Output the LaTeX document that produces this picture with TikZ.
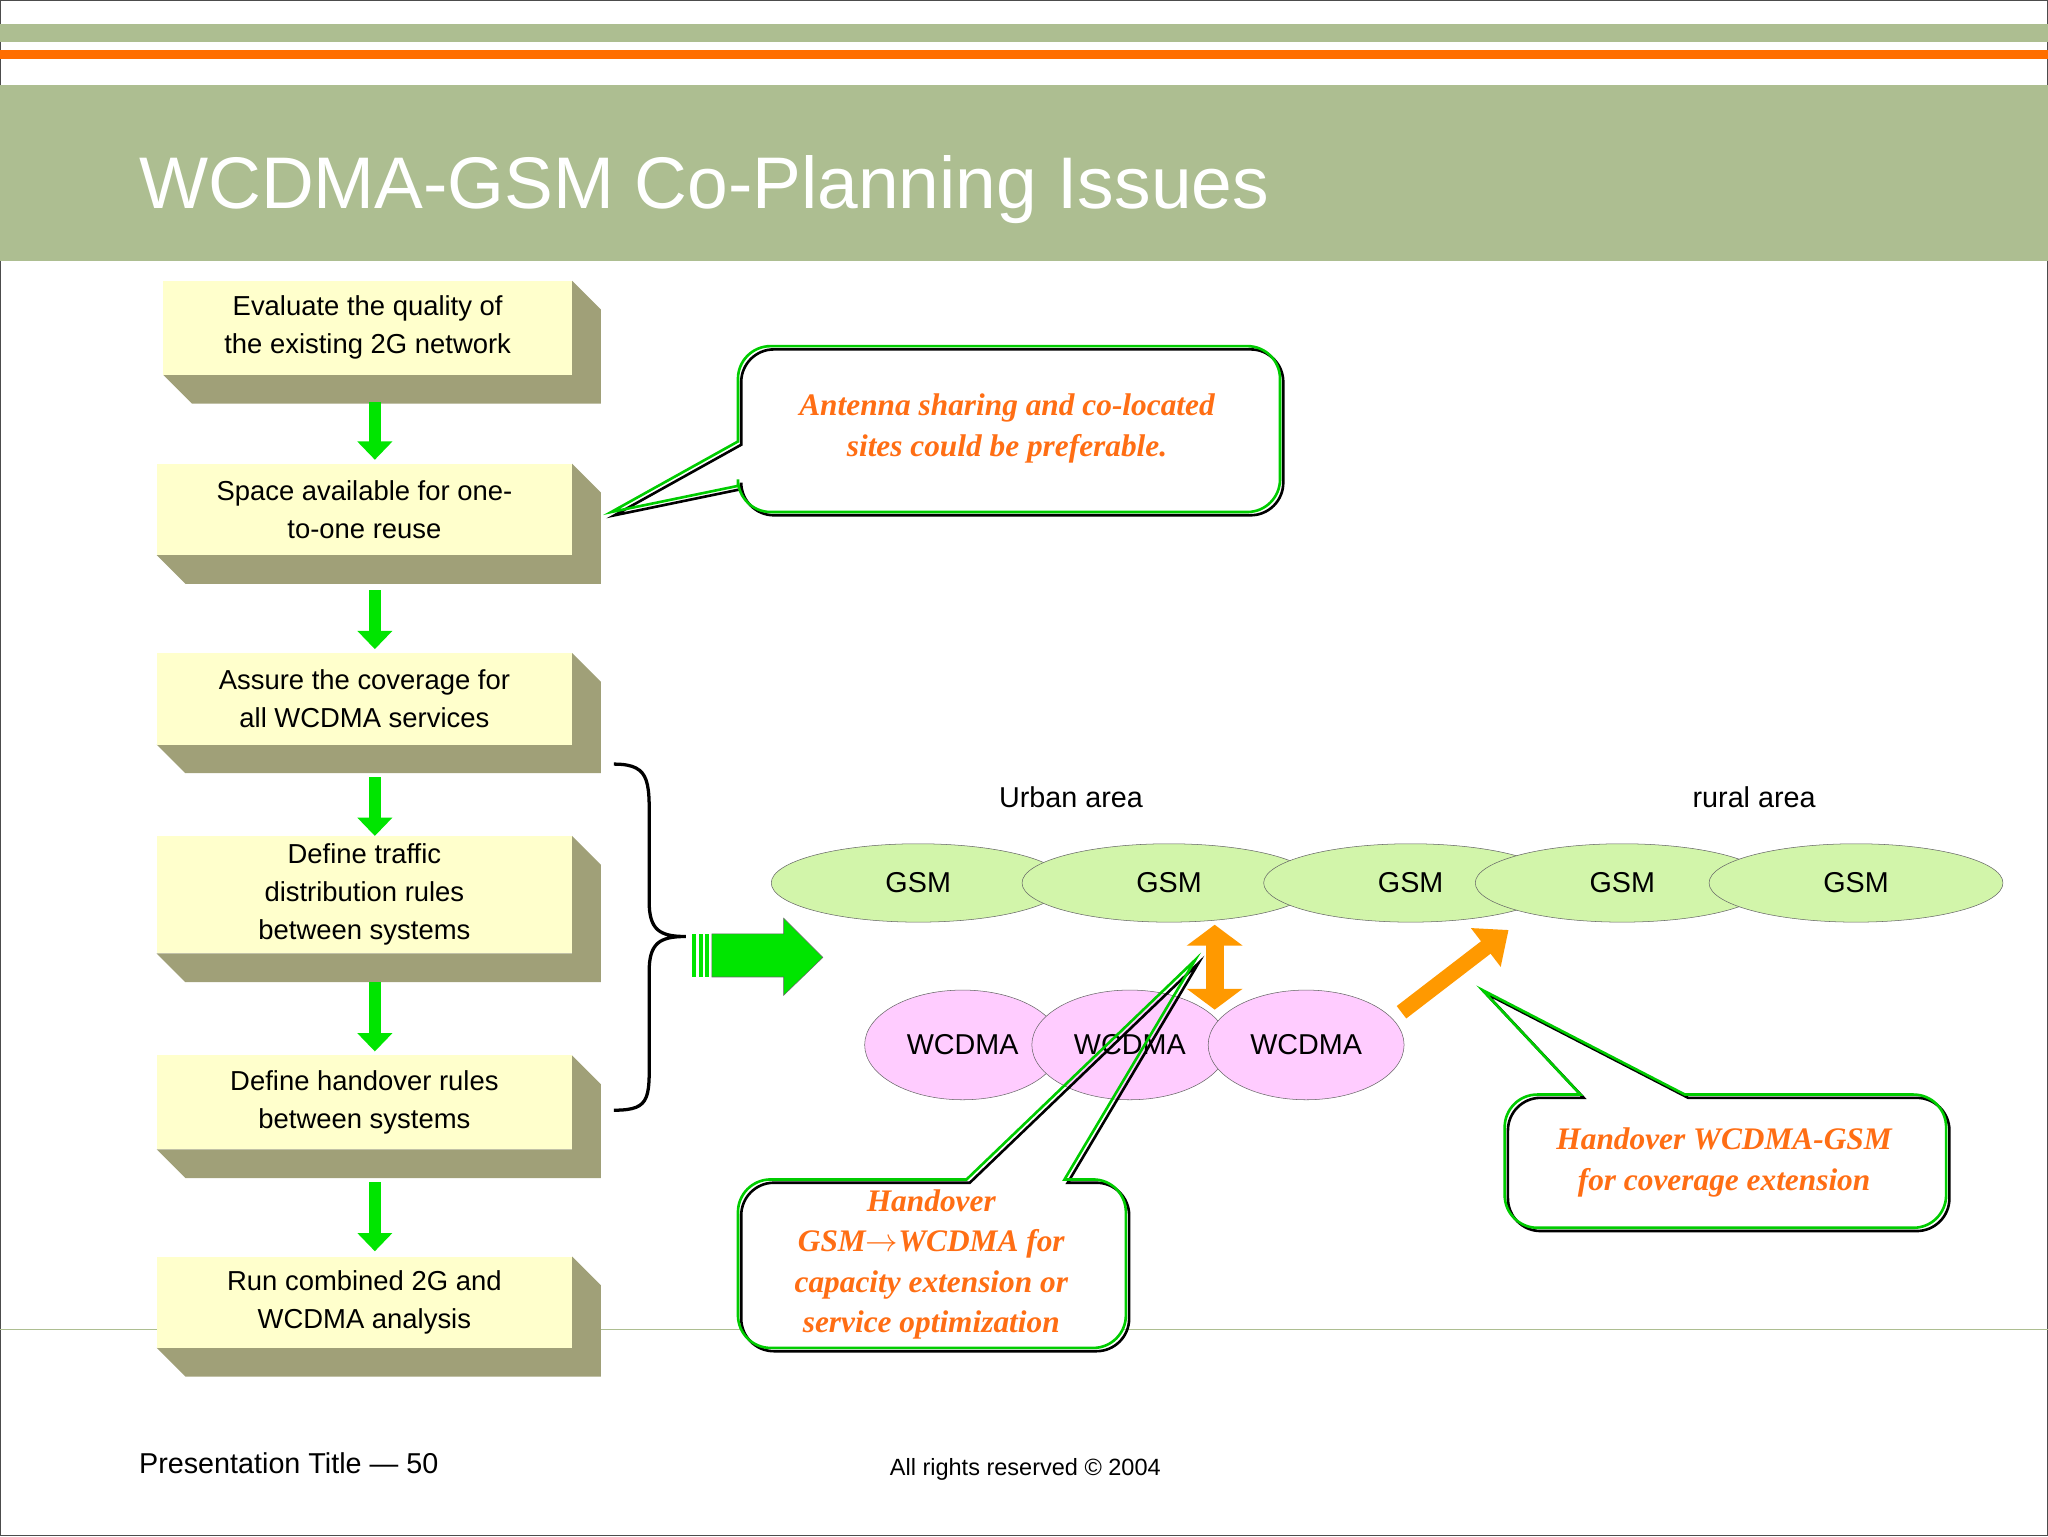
\documentclass[tikz,border=0pt]{standalone}
\usepackage{fontspec}
\setmainfont{Liberation Serif}
\newfontfamily\sans{Liberation Sans}
\usetikzlibrary{arrows.meta,shapes.geometric}
\definecolor{band}{RGB}{173,190,145}
\definecolor{orng}{RGB}{255,110,0}
\definecolor{boxf}{RGB}{255,255,204}
\definecolor{boxs}{RGB}{160,160,120}
\definecolor{gsmf}{RGB}{210,245,170}
\definecolor{wcf}{RGB}{255,204,255}
\definecolor{ctxt}{RGB}{255,110,20}
\definecolor{arr}{RGB}{255,153,0}
\begin{document}
\begin{tikzpicture}[x=1pt,y=-1pt,
 flow/.style={font=\sans\fontsize{21}{29}\selectfont,align=center},
 ctext/.style={font=\bfseries\itshape\fontsize{24}{31}\selectfont,text=ctxt,align=center},
 gsm/.style={ellipse,draw=black!60,fill=gsmf,minimum width=225,minimum height=60,font=\sans\fontsize{22}{24}\selectfont,inner sep=0},
 wc/.style={ellipse,draw=black!60,fill=wcf,minimum width=150,minimum height=84,font=\sans\fontsize{22}{24}\selectfont,inner sep=0},
 darr/.style={-{Triangle[length=14,width=26]},line width=9,green!90!black},
 call/.style={draw=green!80!black,line width=2},
 shad/.style={draw=black,line width=2,shift={(2.5,2.5)}}]
\useasboundingbox (0,0) rectangle (1568,1176);
\fill[white] (0,0) rectangle (1568,1176);
\draw[black!70] (0.5,0.5) rectangle (1567.5,1175.5);
\fill[band] (0,18) rectangle (1568,32);
\fill[orng] (0,38) rectangle (1568,45);
\fill[band] (0,65) rectangle (1568,200);
\node[anchor=base west,text=white,font=\sans\fontsize{56}{60}\selectfont] (title) at (103,160) {WCDMA-GSM Co-Planning Issues};
\draw[band,line width=1.2] (0,1018) -- (1568,1018);
% flow boxes
\foreach \n/\xa/\ya/\yb/\t in {b1/125/215/287/{Evaluate the quality of\\the existing 2G network},
 b2/120/355/425/{Space available for one-\\to-one reuse},
 b3/120/500/570/{Assure the coverage for\\all WCDMA services},
 b4/120/640/730/{Define traffic\\distribution rules\\between systems},
 b5/120/808/880/{Define handover rules\\between systems},
 b6/120/962/1032/{Run combined 2G and\\WCDMA analysis}}{
 \fill[boxs] (\xa,\yb) -- (438,\yb) -- (438,\ya) -- (460,\ya+22) -- (460,\yb+22) -- (\xa+22,\yb+22) -- cycle;
 \fill[boxf] (\xa,\ya) rectangle (438,\yb);
 \node[flow] (\n) at ({(\xa+438)/2},{(\ya+\yb)/2}) {\t};
}
\foreach \ya/\yb in {308/352,452/497,595/640,752/805,905/958}
 \draw[darr] (287,\ya) -- (287,\yb);
% brace
\draw[line width=2.5] (470,585) .. controls (500,585) and (497,600) .. (497,640) -- (497,690) .. controls (497,712) and (505,717) .. (525,717) .. controls (505,717) and (497,722) .. (497,744) -- (497,800) .. controls (497,840) and (500,850) .. (470,850);
% big arrow
\fill[green!90!black,draw=black!60] (545,715) -- (600,715) -- (600,703) -- (630,733) -- (600,762) -- (600,748) -- (545,748) -- cycle;
\foreach \x in {530,535,540} \fill[green!90!black] (\x,715) rectangle (\x+3,748);
% callout 1
\fill[white,rounded corners=25] (565,265) rectangle (980,392);
\draw[shad] (565,300) [rounded corners=25]-- (565,265) -- (980,265) -- (980,392) -- (565,392) [sharp corners]-- (565,372) -- (468,392) -- (565,338) -- cycle;
\draw[call] (565,300) [rounded corners=25]-- (565,265) -- (980,265) -- (980,392) -- (565,392) [sharp corners]-- (565,372) -- (468,392) -- (565,338) -- cycle;
\node[ctext] (c1) at (771,328) {Antenna sharing and co-located\\sites could be preferable.};
% labels
\node[font=\sans\fontsize{22}{24}\selectfont] (ua) at (820,610) {Urban area};
\node[font=\sans\fontsize{22}{24}\selectfont] (ra) at (1343,610) {rural area};
% ellipses
\node[gsm] (g1) at (703,676) {GSM};
\node[gsm] (g2) at (895,676) {GSM};
\node[gsm] (g3) at (1080,676) {GSM};
\node[gsm] (g4) at (1242,676) {GSM};
\node[gsm] (g5) at (1421,676) {GSM};
\node[wc] (w1) at (737,800) {WCDMA};
\node[wc] (w2) at (865,800) {WCDMA};
\node[wc] (w3) at (1000,800) {WCDMA};
% orange arrows
\draw[arr,line width=14,{Triangle[length=16,width=42]}-{Triangle[length=16,width=42]}] (930,708) -- (930,773);
\draw[arr,line width=12,-{Triangle[length=22,width=36]}] (1073,775) -- (1155,712);
% callout 2
\fill[white,rounded corners=25] (565,903) rectangle (862,1032);
\draw[shad] (650,903) [rounded corners=25]-- (565,903) -- (565,1032) -- (862,1032) -- (862,903) [sharp corners]-- (815,903) -- (915,735) -- (740,903) -- cycle;
\draw[call] (650,903) [rounded corners=25]-- (565,903) -- (565,1032) -- (862,1032) -- (862,903) [sharp corners]-- (815,903) -- (915,735) -- (740,903) -- cycle;
\node[ctext] (c2) at (713,968) {Handover\\GSM\textbf{$\rightarrow$}WCDMA for\\capacity extension or\\service optimization};
% callout 3
\fill[white,rounded corners=25] (1152,838) rectangle (1490,940);
\draw[shad] (1180,838) [rounded corners=25]-- (1152,838) -- (1152,940) -- (1490,940) -- (1490,838) [sharp corners]-- (1290,838) -- (1135,758) -- (1210,838) -- cycle;
\draw[call] (1180,838) [rounded corners=25]-- (1152,838) -- (1152,940) -- (1490,940) -- (1490,838) [sharp corners]-- (1290,838) -- (1135,758) -- (1210,838) -- cycle;
\node[ctext] (c3) at (1320,890) {Handover WCDMA-GSM\\for coverage extension};
% footer
\node[anchor=base west,font=\sans\fontsize{22}{24}\selectfont] (ft) at (103,1128) {Presentation Title — 50};
\node[anchor=base,font=\sans\fontsize{18}{20}\selectfont] (fr) at (785,1130) {All rights reserved © 2004};
\end{tikzpicture}
\end{document}
